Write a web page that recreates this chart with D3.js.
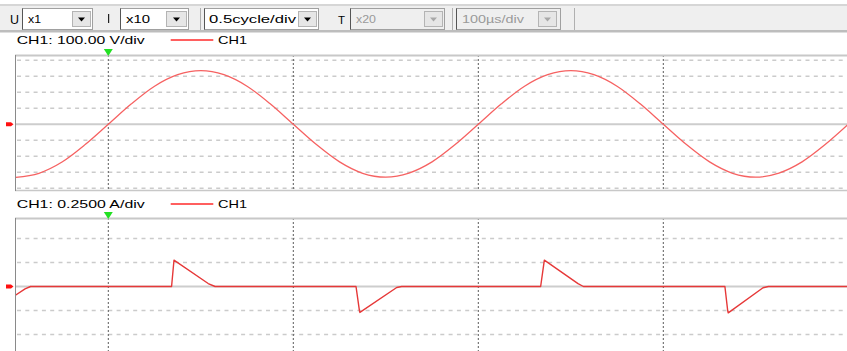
<!DOCTYPE html>
<html><head><meta charset="utf-8">
<script src="https://cdn.jsdelivr.net/npm/d3@7"></script>
<style>body{margin:0;background:#fff;overflow:hidden} svg{display:block}</style>
</head><body><svg id="c" width="847" height="351"></svg>
<script>
// ---- data (time in ms, 0.5 cycle = 10 ms per division) ----
const timeV = [-5,-3.75,-2.5,-1.25,0,1.25,2.5,3.75,5,6.25,7.5,8.75,10,11.25,12.5,13.75,15,16.25,17.5,18.75,20,21.25,22.5,23.75,25,26.25,27.5,28.75,30,31.25,32.5,33.75,35,36.25,37.5,38.75,40];
const voltage = [-332,-306,-236,-127,0,128,238,310,336,310,238,128,0,-127,-235,-306,-330,-305,-235,-127,0,128,238,310,336,310,238,128,0,-127,-235,-306,-330,-305,-235,-127,0];
const timeI = [-5.04,-4.5,-4.2,3.42,3.55,5.40,5.77,13.39,13.57,13.60,15.59,15.86,23.37,23.57,25.39,25.68,33.33,33.48,33.51,35.39,35.68,40];
const current = [-0.093,-0.025,0,0,0.274,0.031,0,0,-0.247,-0.270,-0.010,0,0,0.274,0.030,0,0,-0.250,-0.275,-0.013,0,0];
const timeTicks = [0,10,20,30,40];
const voltRows = [-400,-300,-200,-100,100,200,300,400];
const ampRows = [-0.5,-0.25,0.25,0.5];
const voltLabel = "CH1: 100.00 V/div";
const ampLabel = "CH1: 0.2500 A/div";
const seriesName = "CH1";

const svg = d3.select("#c");
const FONT = "Liberation Sans, Arial, sans-serif";

// scales
const x = d3.scaleLinear().domain([0,10]).range([108.3,293.3]);
const yV = d3.scaleLinear().domain([-100,100]).range([140.3,108.3]);
const yI = d3.scaleLinear().domain([-0.25,0.25]).range([310.5,262.5]);

svg.append("rect").attr("width",847).attr("height",351).attr("fill","#fff");

// ---- toolbar ----
const tb = svg.append("g");
tb.append("rect").attr("x",0).attr("y",4).attr("width",847).attr("height",2).attr("fill","#d6d6d6");
tb.append("rect").attr("x",0).attr("y",6).attr("width",847).attr("height",24).attr("fill","#efefef");
tb.append("rect").attr("x",0).attr("y",30).attr("width",847).attr("height",2.5).attr("fill","#bdbdbd");

function txt(g, s, x0, w, y, fill, size){
  return g.append("text").attr("x",x0).attr("y",y).attr("font-family",FONT)
    .attr("font-size",size||10.5).attr("fill",fill||"#000")
    .attr("textLength",w).attr("lengthAdjust","spacingAndGlyphs").text(s);
}
function combo(x0,x1,a0,a1,label,tx,tw,disabled){
  const g = tb.append("g");
  g.append("rect").attr("x",x0+0.5).attr("y",8.5).attr("width",x1-x0).attr("height",21)
    .attr("fill",disabled?"#efefef":"#fff").attr("stroke","#a0a0a0");
  g.append("line").attr("x1",x0+0.5).attr("x2",x0+0.5).attr("y1",8.5).attr("y2",29.5).attr("stroke","#555");
  g.append("rect").attr("x",a0+0.5).attr("y",11.5).attr("width",a1-a0).attr("height",15)
    .attr("fill","#e6e6e6").attr("stroke","#b4b4b4");
  const cx=(a0+a1)/2+0.5;
  g.append("path").attr("d",`M${cx-3.5},17.5 L${cx+3.5},17.5 L${cx},21.5 Z`).attr("fill",disabled?"#a8a8a8":"#000");
  txt(g,label,tx,tw,23,disabled?"#9a9a9a":"#000");
}
txt(tb,"U",10,9,24,"#000",12.5);
combo(22,92,72,90,"x1",28,13,false);
tb.append("rect").attr("x",108).attr("y",14).attr("width",1.2).attr("height",9).attr("fill","#222");
combo(120,188,166,186,"x10",126,24,false);
tb.append("line").attr("x1",200.5).attr("x2",200.5).attr("y1",8).attr("y2",30).attr("stroke","#b0b0b0");
combo(204,318,298,316,"0.5cycle/div",209,87,false);
txt(tb,"T",338,7,23.5,"#000",11.5);
combo(350,444,424,442,"x20",356,20,true);
tb.append("line").attr("x1",452.5).attr("x2",452.5).attr("y1",8).attr("y2",30).attr("stroke","#b0b0b0");
combo(456,560,538,556,"100\u00b5s/div",462,62,true);
tb.append("line").attr("x1",574.5).attr("x2",574.5).attr("y1",8).attr("y2",30).attr("stroke","#b0b0b0");

// ---- panels ----
function panel(top, bottom, yScale, rows, values, times, title, titleY, curveType, lineColor, lineW){
  const g = svg.append("g");
  const id = "clip"+top;
  svg.append("clipPath").attr("id",id).append("rect").attr("x",15.5).attr("y",top).attr("width",847-15.5).attr("height",bottom-top);
  // title + legend
  txt(g,title,16.7,128,titleY,"#000",10.5);
  g.append("line").attr("x1",170.7).attr("x2",213.3).attr("y1",titleY-4).attr("y2",titleY-4)
    .attr("stroke","#ff2a2a").attr("stroke-width",1.6);
  txt(g,seriesName,218,29,titleY,"#000",10.5);
  const pg = g.append("g").attr("clip-path",`url(#${id})`);
  // horizontal dashed grid rows
  pg.selectAll("line.row").data(rows).join("line").attr("class","row")
    .attr("x1",17).attr("x2",847).attr("y1",d=>yScale(d)).attr("y2",d=>yScale(d))
    .attr("stroke","#cbcbcb").attr("stroke-width",1.6).attr("stroke-dasharray","4,4.3");
  // center line
  pg.append("line").attr("x1",15).attr("x2",847).attr("y1",yScale(0)).attr("y2",yScale(0))
    .attr("stroke","#cdcdcd").attr("stroke-width",2);
  // vertical dashed grid
  pg.selectAll("line.col").data(timeTicks).join("line").attr("class","col")
    .attr("x1",d=>x(d)).attr("x2",d=>x(d)).attr("y1",top).attr("y2",bottom)
    .attr("stroke","#5a5a5a").attr("stroke-width",1).attr("stroke-dasharray","2,2");
  // frame
  g.append("line").attr("x1",15).attr("x2",847).attr("y1",top+0.5).attr("y2",top+0.5)
    .attr("stroke","#c8c8c8").attr("stroke-width",2);
  if(bottom<351) g.append("line").attr("x1",15).attr("x2",847).attr("y1",bottom-0.5).attr("y2",bottom-0.5)
    .attr("stroke","#c8c8c8").attr("stroke-width",1.5);
  g.append("line").attr("x1",15.5).attr("x2",15.5).attr("y1",top).attr("y2",bottom)
    .attr("stroke","#8a8a8a").attr("stroke-width",1);
  // trace
  const line = d3.line().x((d,i)=>x(times[i])).y(d=>yScale(d)).curve(curveType);
  pg.append("path").datum(values).attr("d",line).attr("fill","none")
    .attr("stroke",lineColor).attr("stroke-width",lineW).attr("stroke-linejoin","round");
  // level marker (red, left)
  const ym = yScale(0);
  g.append("path").attr("d",`M6,${ym-2} L11,${ym-2} L13.5,${ym} L11,${ym+2} L6,${ym+2} Z`).attr("fill","#ff1010");
  // trigger marker (green, top)
  const xm = x(0);
  g.append("path").attr("d",`M${xm-4.5},${top-6} L${xm+4.5},${top-6} L${xm},${top+1} Z`).attr("fill","#22e022");
}
panel(55, 191, yV, voltRows, voltage, timeV, voltLabel, 44, d3.curveMonotoneX, "#f66262", 1.3);
panel(218, 351, yI, ampRows, current, timeI, ampLabel, 208, d3.curveLinear, "#e63838", 1.4);
</script>
</body></html>
